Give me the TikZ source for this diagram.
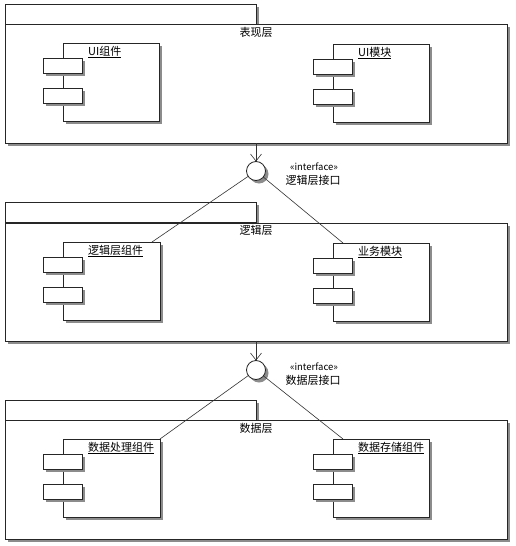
\documentclass[tikz,border=0pt]{standalone}
\usepackage{fontspec}
\setmainfont{Noto Sans CJK SC}
\usetikzlibrary{shadows,arrows.meta}
\begin{document}
\begin{tikzpicture}[x=1pt,y=-1pt,
  lw/.style={line width=0.8pt,draw=black!85},
  shadowed/.style={drop shadow={shadow xshift=3pt,shadow yshift=-3pt,fill=black!45,opacity=1}},
  box/.style={lw,fill=white,shadowed,anchor=north west,inner sep=0pt,outer sep=0pt},
  pkgtab/.style={box,minimum width=251pt,minimum height=20pt},
  pkgbody/.style={box,minimum width=502pt,minimum height=119pt},
  comp/.style={box,minimum width=96pt,minimum height=78pt},
  port/.style={box,minimum width=39pt,minimum height=15pt},
  iface/.style={circle,lw,fill=white,shadowed,minimum size=19pt,inner sep=0pt,outer sep=0pt},
  title/.style={font=\fontsize{11pt}{13pt}\selectfont,inner sep=0pt},
  clabel/.style={font=\fontsize{11pt}{13pt}\selectfont,inner sep=0pt,anchor=west},
  stereo/.style={font=\fontsize{9.5pt}{11pt}\selectfont,inner sep=0pt},
  conn/.style={line width=0.6pt,draw=black!80},
  arr/.style={conn,-{Straight Barb[length=7pt,width=11pt]}}
]
\useasboundingbox (0,0) rectangle (515,546);
\fill[white] (0,0) rectangle (515,546);

% ---------- package 1 ----------
\node[pkgtab] (tab1) at (5,4) {};
\node[pkgbody] (p1) at (5,24) {};
\node[title] (t1) at (256,32) {表现层};
\node[comp] (c1) at (63,43) {};
\node[port] (c1a) at (43,58) {};
\node[port] (c1b) at (43,88) {};
\node[clabel] (l1) at (88,52) {\underline{UI组件}};
\node[comp] (c2) at (333,44) {};
\node[port] (c2a) at (313,59) {};
\node[port] (c2b) at (313,89) {};
\node[clabel] (l2) at (358,53) {\underline{UI模块}};

% ---------- interface 1 ----------
\node[iface] (i1) at (256,171) {};
\node[stereo] (s1) at (314,167) {«interface»};
\node[title] (n1) at (313,180) {逻辑层接口};

% ---------- package 2 ----------
\node[pkgtab] (tab2) at (5,202) {};
\node[pkgbody,minimum height=118pt] (p2) at (5,223) {};
\node[title] (t2) at (256,230) {逻辑层};
\node[comp,minimum width=97pt] (c3) at (63,242) {};
\node[port] (c3a) at (43,257) {};
\node[port] (c3b) at (43,287) {};
\node[clabel] (l3) at (88,251) {\underline{逻辑层组件}};
\node[comp] (c4) at (333,243) {};
\node[port] (c4a) at (313,258) {};
\node[port] (c4b) at (313,288) {};
\node[clabel] (l4) at (358,252) {\underline{业务模块}};

% ---------- interface 2 ----------
\node[iface] (i2) at (256,370) {};
\node[stereo] (s2) at (314,367) {«interface»};
\node[title] (n2) at (313,380) {数据层接口};

% ---------- package 3 ----------
\node[pkgtab] (tab3) at (5,400) {};
\node[pkgbody] (p3) at (5,420) {};
\node[title] (t3) at (256,428) {数据层};
\node[comp,minimum width=97pt] (c5) at (63,439) {};
\node[port] (c5a) at (43,454) {};
\node[port] (c5b) at (43,484) {};
\node[clabel] (l5) at (88,448) {\underline{数据处理组件}};
\node[comp] (c6) at (333,439) {};
\node[port] (c6a) at (313,454) {};
\node[port] (c6b) at (313,484) {};
\node[clabel] (l6) at (358,448) {\underline{数据存储组件}};

% ---------- connectors ----------
\draw[arr] (p1.south) -- (i1.north);
\draw[conn] (i1) -- ([xshift=-8pt]c3.north east);
\draw[conn] (i1) -- ([xshift=10pt]c4.north west);
\draw[arr] (p2.south) -- (i2.north);
\draw[conn] (i2) -- (c5.north east);
\draw[conn] (i2) -- ([xshift=10pt]c6.north west);
\end{tikzpicture}
\end{document}
